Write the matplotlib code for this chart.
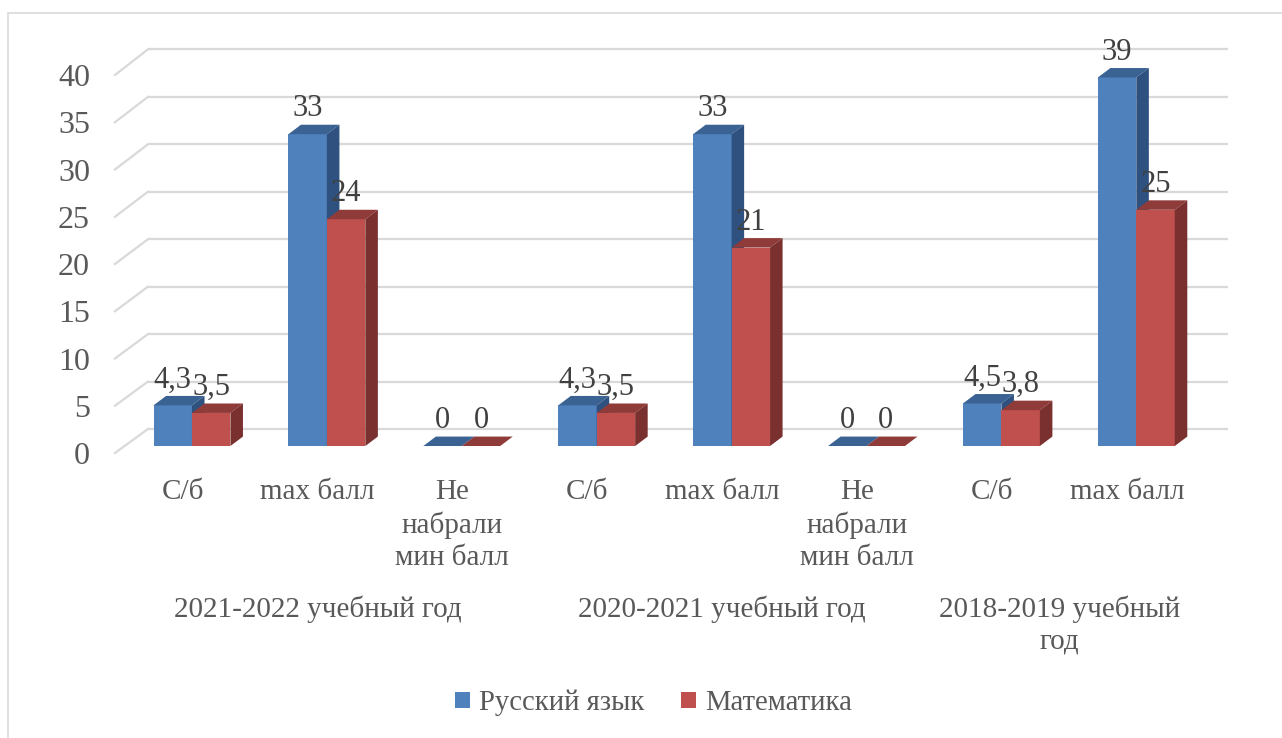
import matplotlib.pyplot as plt
from matplotlib.patches import Polygon, Patch, Rectangle

# data
categories = ['С/б', 'max балл', 'Не\nнабрали\nмин балл',
              'С/б', 'max балл', 'Не\nнабрали\nмин балл',
              'С/б', 'max балл']
groups = ['2021-2022 учебный год', '2020-2021 учебный год', '2018-2019 учебный\nгод']
group_sizes = [3, 3, 2]
russian = [4.3, 33, 0, 4.3, 33, 0, 4.5, 39]
math = [3.5, 24, 0, 3.5, 21, 0, 3.8, 25]
series_names = ['Русский язык', 'Математика']
yticks = [0, 5, 10, 15, 20, 25, 30, 35, 40]

# colours (front, top, side)
blue = ('#4F81BD', '#3A6394', '#2F5180')
red = ('#C0504D', '#8F3B39', '#7A302E')
text_col = '#595959'
grid_col = '#D9D9D9'

plt.rcParams['font.family'] = ['Liberation Serif', 'DejaVu Serif']

fig = plt.figure(figsize=(12.82, 7.38), dpi=100)
ax = fig.add_axes([0, 0, 1, 1])
ax.set_xlim(-1.423, 8.080)
ax.set_ylim(-30.90, 47.20)
ax.axis('off')

# fake 3d offsets (data units)
w = 0.285
dx, dy = 0.093, 1.0
wall_front_x, wall_back_x, wall_end_x = -0.571, -0.326, 7.68
wall_front_dy, wall_back_dy = -0.74, 1.8

# back wall grid + left wall diagonals
for v in yticks:
    ax.plot([wall_back_x, wall_end_x], [v + wall_back_dy * (1 + v / 400)] * 2,
            color=grid_col, lw=1.6, zorder=1, solid_capstyle='butt')
    ax.plot([wall_front_x, wall_back_x],
            [v + wall_front_dy, v + wall_back_dy * (1 + v / 400)],
            color=grid_col, lw=1.6, zorder=1)
    ax.text(-0.756, v + wall_front_dy, str(v), ha='right', va='center_baseline',
            fontsize=23, color=text_col)


def bar3d(x0, v, cols, z):
    x1 = x0 + w
    ax.bar(x0, v, width=w, align='edge', color=cols[0], zorder=z)
    ax.add_patch(Polygon([(x0, v), (x0 + dx, v + dy), (x1 + dx, v + dy), (x1, v)],
                         closed=True, facecolor=cols[1], edgecolor='none', zorder=z))
    ax.add_patch(Polygon([(x1, 0), (x1, v), (x1 + dx, v + dy), (x1 + dx, dy)],
                         closed=True, facecolor=cols[2], edgecolor='none', zorder=z))


def fmt(v):
    return f'{v:g}'.replace('.', ',')


for i, (r, m) in enumerate(zip(russian, math)):
    bar3d(i - w, r, blue, 3 + i * 2)
    bar3d(i, m, red, 4 + i * 2)
    ax.text(i - w / 2, r + dy + 0.9, fmt(r), ha='center', va='baseline',
            fontsize=22, color='#404040', zorder=30)
    ax.text(i + w / 2, m + dy + 0.9, fmt(m), ha='center', va='baseline',
            fontsize=22, color='#404040', zorder=30)
    ax.text(i - 0.07, -3.45, categories[i], ha='center', va='top',
            fontsize=21, color=text_col, linespacing=1.3)

start = 0
for g, n in zip(groups, group_sizes):
    cx = start + (n - 1) / 2 - 0.07
    ax.text(cx, -15.8, g, ha='center', va='top', fontsize=21,
            color=text_col, linespacing=1.3)
    start += n

handles = [Patch(facecolor=blue[0]), Patch(facecolor=red[0])]
fig.legend(handles, series_names, loc='center', bbox_to_anchor=(653.5 / 1282, 1 - 703 / 738),
           ncol=2, frameon=False, fontsize=20.6, handlelength=0.52, handleheight=0.52,
           handletextpad=0.3, columnspacing=1.3, labelcolor=text_col)

# outer chart border (right and bottom edges lie outside the image)
fig.patches.append(Rectangle((8 / 1282, -0.01), 1.0, 1 - 13 / 738 + 0.01,
                             transform=fig.transFigure, fill=False,
                             edgecolor=grid_col, lw=1.2))

fig.savefig('out.png', dpi=100, facecolor='white')
